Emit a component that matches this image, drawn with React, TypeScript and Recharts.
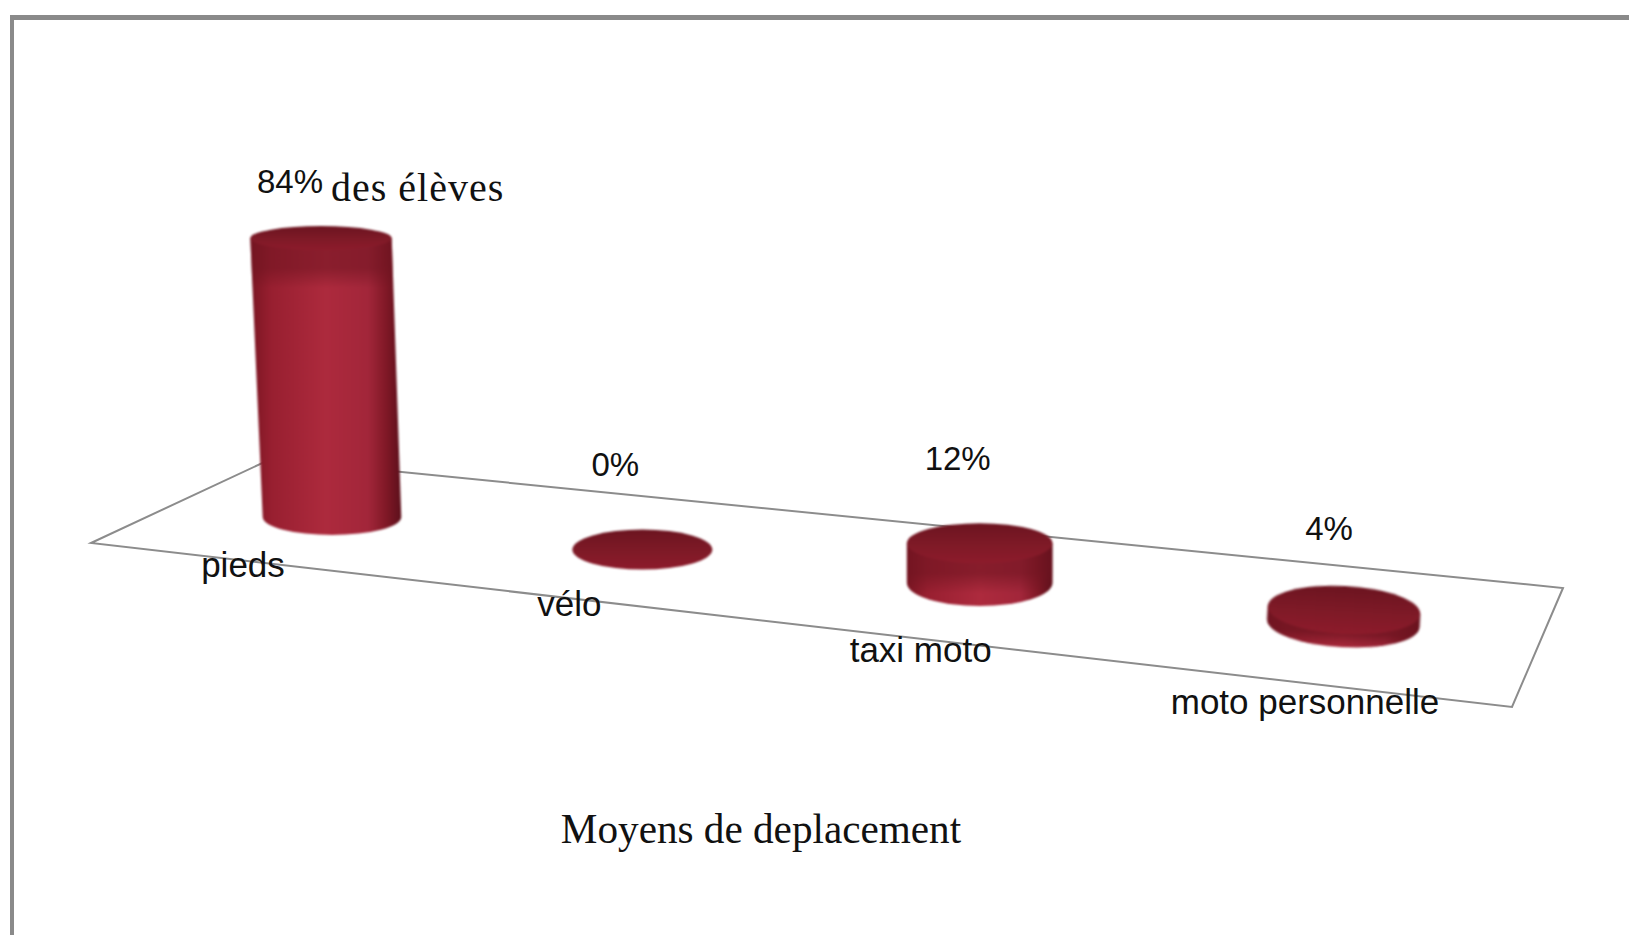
import React from 'react';
import { BarChart, Bar, XAxis, YAxis, Customized, LabelList } from 'recharts';

const categories = ['pieds', 'vélo', 'taxi moto', 'moto personnelle'];
const percentages = [84, 0, 12, 4];
const yAxisTitle = 'des élèves';
const xAxisTitle = 'Moyens de deplacement';

const chartData = categories.map((name, i) => ({ name, value: percentages[i] }));

const WIDTH = 1629;
const HEIGHT = 935;
const SANS = '"Liberation Sans", Arial, sans-serif';
const SERIF = '"Liberation Serif", "Times New Roman", serif';

// fake 3D: the floor goes down to the right and columns get closer together on the left
const FLOOR_SLOPE = 0.105;
const FLOOR_ORIGIN_X = 332;
const FLOOR_POINTS = '91,543 271,459 1563,588 1512,707';

const barViews = [
  { dx: 0, dy: 0, rxTop: 1.01, ryTop: 12, rxBase: 0.99, ryBase: 18, lean: 11, tilt: 0, labelDx: -31, labelDy: -45, shade: 38, shadeAlpha: 0.55 },
  { dx: -27, dy: 0, rxTop: 1, ryTop: 20, rxBase: 1, ryBase: 20, lean: 0, tilt: 0, labelDx: -27, labelDy: -74, shade: 0, shadeAlpha: 0 },
  { dx: -27, dy: -2, rxTop: 1.04, ryTop: 20, rxBase: 1.04, ryBase: 23, lean: 0, tilt: 0, labelDx: -22, labelDy: -73, shade: 30, shadeAlpha: 0.6 },
  { dx: 0, dy: 0, rxTop: 1.09, ryTop: 24, rxBase: 1.09, ryBase: 24, lean: 0, tilt: 3, labelDx: -15, labelDy: -70, shade: 14, shadeAlpha: 0.8 },
];

const tickOffsets = [
  { dx: -89, dy: 60 },
  { dx: -100, dy: 99 },
  { dx: -86, dy: 145 },
  { dx: -39, dy: 197 },
];

const Floor = () => (
  <polygon points={FLOOR_POINTS} fill="#ffffff" stroke="#8c8c8c" strokeWidth={2} />
);

const geometry = (x: number, y: number, width: number, height: number, index: number) => {
  const view = barViews[index];
  const cx = x + width / 2 + view.dx;
  const base = y + height + FLOOR_SLOPE * (cx - FLOOR_ORIGIN_X) + view.dy;
  return { view, cx, base, top: base - height, topCx: cx - view.lean };
};

const Cylinder = (props: any) => {
  const { x, y, width, height, index } = props;
  const { view, cx, base, top, topCx } = geometry(x, y, width, height, index);
  const half = width / 2;
  const rxTop = half * view.rxTop;
  const rxBase = half * view.rxBase;
  const shadeId = `cyl-shade-${index}`;
  const body = `M${topCx - rxTop},${top} L${cx - rxBase},${base} A${rxBase},${view.ryBase} 0 0 0 ${cx + rxBase},${base} L${topCx + rxTop},${top} Z`;

  return (
    <g transform={`rotate(${view.tilt} ${cx} ${top})`} style={{ filter: 'blur(0.9px)' }}>
      <defs>
        <linearGradient id={shadeId} gradientUnits="userSpaceOnUse" x1={0} x2={0} y1={top} y2={top + view.ryTop + (view.shade || 1)}>
          <stop offset="0%" stopColor="#6e1420" stopOpacity={view.shadeAlpha} />
          <stop offset="60%" stopColor="#6e1420" stopOpacity={view.shadeAlpha} />
          <stop offset="100%" stopColor="#6e1420" stopOpacity={0} />
        </linearGradient>
      </defs>
      {height > 0 && <path d={body} fill="url(#cyl-side)" />}
      {height > 0 && view.shade > 0 && <path d={body} fill={`url(#${shadeId})`} />}
      <ellipse cx={topCx} cy={top} rx={rxTop} ry={view.ryTop} fill="url(#cyl-cap)" />
    </g>
  );
};

const ValueLabel = (props: any) => {
  const { x, y, width, height, index, value } = props;
  const { view, top, topCx } = geometry(x, y, width, height, index);
  return (
    <text x={topCx + view.labelDx} y={top + view.labelDy} textAnchor="middle" fontFamily={SANS} fontSize={33} fill="#111">
      {value}%
    </text>
  );
};

const CategoryTick = (props: any) => {
  const { payload, index } = props;
  const offset = tickOffsets[index];
  return (
    <text x={payload.coordinate + offset.dx} y={517 + offset.dy} textAnchor="middle" fontFamily={SANS} fontSize={35} fill="#111">
      {payload.value}
    </text>
  );
};

const YTitle = () => (
  <text x={331} y={201} fontFamily={SERIF} fontSize={40} letterSpacing={1} fill="#111">
    {yAxisTitle}
  </text>
);

const XTitle = () => (
  <text x={761} y={843} textAnchor="middle" fontFamily={SERIF} fontSize={41.2} fill="#111">
    {xAxisTitle}
  </text>
);

export default function App() {
  return (
    <div
      style={{
        position: 'absolute',
        left: 0,
        top: 0,
        width: WIDTH,
        height: HEIGHT,
        overflow: 'hidden',
        background: '#fff',
      }}
    >
      <div
        style={{
          position: 'absolute',
          left: 10,
          top: 15,
          width: WIDTH,
          height: HEIGHT,
          borderTop: '5px solid #8a8a8a',
          borderLeft: '4px solid #8a8a8a',
        }}
      />
      <div style={{ position: 'absolute', left: 0, top: 0 }}>
        <BarChart
          width={WIDTH}
          height={HEIGHT}
          data={chartData}
          margin={{ top: 185, right: 116.33, bottom: 0, left: 163.33 }}
          barCategoryGap="29.25%"
        >
          <defs>
            <linearGradient id="cyl-side" x1="0" x2="1" y1="0" y2="0">
              <stop offset="0%" stopColor="#7a1522" />
              <stop offset="14%" stopColor="#981f30" />
              <stop offset="50%" stopColor="#ad2a3d" />
              <stop offset="78%" stopColor="#a2263a" />
              <stop offset="90%" stopColor="#801826" />
              <stop offset="100%" stopColor="#5c101b" />
            </linearGradient>
            <linearGradient id="cyl-cap" x1="0" x2="0" y1="0" y2="1">
              <stop offset="0%" stopColor="#6c1420" />
              <stop offset="55%" stopColor="#7f1a27" />
              <stop offset="100%" stopColor="#8d1b2b" />
            </linearGradient>
          </defs>
          <Customized component={Floor} />
          <XAxis
            dataKey="name"
            height={418}
            axisLine={false}
            tickLine={false}
            interval={0}
            tick={<CategoryTick />}
          />
          <YAxis width={0} domain={[0, 100]} hide />
          <Bar dataKey="value" shape={<Cylinder />} isAnimationActive={false}>
            <LabelList dataKey="value" content={<ValueLabel />} />
          </Bar>
          <Customized component={YTitle} />
          <Customized component={XTitle} />
        </BarChart>
      </div>
    </div>
  );
}
